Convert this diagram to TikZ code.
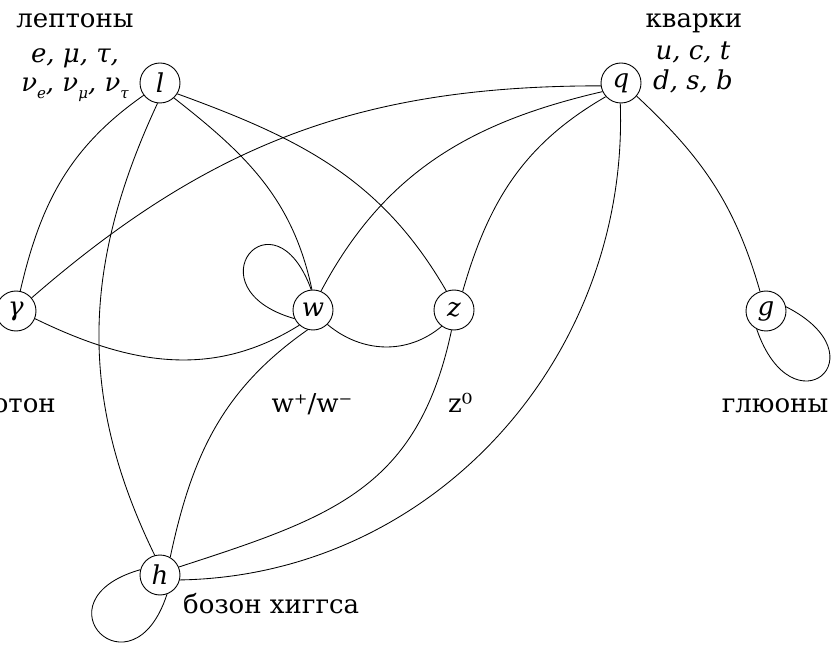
\documentclass[tikz,border=0pt]{standalone}
\usepackage{fontspec}
\setmainfont{DejaVu Serif}
\newcommand{\lsub}[1]{\raisebox{-0.45ex}{\fontsize{15}{15}\selectfont\itshape #1}}
\begin{document}
\begin{tikzpicture}[x=1pt,y=1pt,
  every node/.style={font=\fontsize{26}{30}\selectfont},
  particle/.style={circle,draw,line width=0.9pt,minimum size=40pt,inner sep=0pt,font=\fontsize{26}{30}\selectfont\itshape},
  edge/.style={line width=0.85pt},
  lbl/.style={anchor=base,inner sep=0pt}]
\useasboundingbox (0,0) rectangle (833,-652);

\node[particle] (l) at (160,-83) {l};
\node[particle] (q) at (621,-83) {q};
\node[particle] (ga) at (16,-311) {γ};
\node[particle] (w) at (313,-310) {w};
\node[particle] (z) at (454,-310) {z};
\node[particle] (g) at (766,-311) {g};
\node[particle] (h) at (160,-575) {h};

\node[lbl] (lep1) at (75,-28) {лептоны};
\node[lbl] (lep2) at (75,-63) {\itshape e, μ, τ,};
\node[lbl] (lep3) at (75,-92) {\itshape ν\lsub{e}, ν\lsub{μ}, ν\lsub{τ}};
\node[lbl] (qu1) at (694,-28) {кварки};
\node[lbl] (qu2) at (693,-60) {\itshape u, c, t};
\node[lbl] (qu3) at (693,-90) {\itshape d, s, b};
\node[lbl,anchor=base east] (lph) at (56,-412) {фотон};
\node[lbl] (lw) at (312,-412) {w⁺/w⁻};
\node[lbl,anchor=base west] (lz) at (448,-412) {z⁰};
\node[lbl] (lg) at (775,-412) {глюоны};
\node[lbl,anchor=base west] (lh) at (183,-613) {бозон хиггса};

% edges from l
\draw[edge] (l.217) to[out=215,in=77] (ga.78);
\draw[edge] (l.263) to[out=245,in=116] (h.105);
\draw[edge] (l.-47) to[out=-38,in=102] (w.93);
\draw[edge] (l.-32) to[out=-20,in=120] (z.112);
% edges from q
\draw[edge] (q.188) to[out=180,in=41] (ga.40);
\draw[edge] (q.205) to[out=193,in=62] (w.67);
\draw[edge] (q.222) to[out=210,in=74] (z.65);
\draw[edge] (q.268) to[out=272,in=1] (h.-14);
\draw[edge] (q.-40) to[out=-43,in=106] (g.107);
% middle row
\draw[edge] (ga.-22) to[out=-26,in=212] (w.228);
\draw[edge] (w.-45) to[out=-40,in=220] (z.233);
\draw[edge] (w.255) to[out=215,in=78] (h.60);
\draw[edge] (z.263) to[out=258,in=18,looseness=1.15] (h.23);
% loops
\draw[edge] (w.95) .. controls +(110:110) and +(164:110) .. (w.205);
\draw[edge] (h.165) .. controls +(196:112) and +(252:112) .. (h.290);
\draw[edge] (g.12) .. controls +(-27:110) and +(289:110) .. (g.243);
\end{tikzpicture}
\end{document}
